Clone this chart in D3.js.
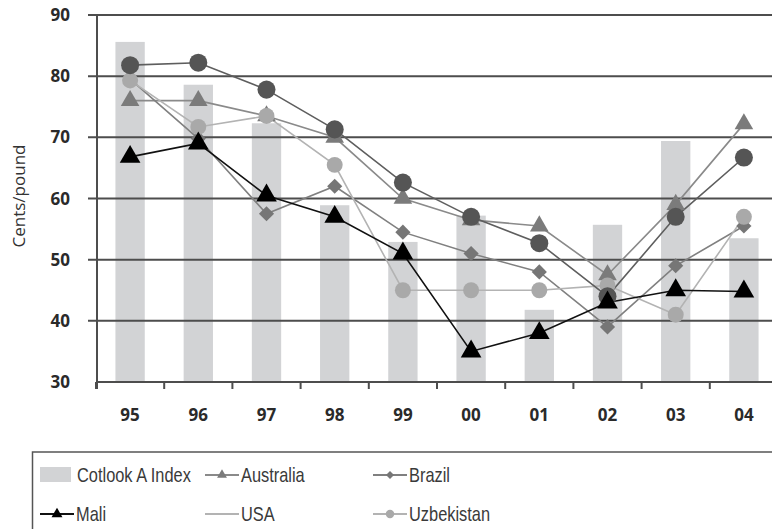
<!DOCTYPE html>
<html><head><meta charset="utf-8">
<script src="https://cdn.jsdelivr.net/npm/d3@7/dist/d3.min.js"></script>
<style>
html,body{margin:0;padding:0;background:#fff;}
svg{display:block;}
.leg{font-family:'Liberation Sans',Arial,sans-serif;font-size:20px;fill:#3a3a3a;}
.ax{font-family:'Open Sans','DejaVu Sans',sans-serif;font-weight:bold;font-size:17px;fill:#2a2a2a;}
</style></head>
<body>
<svg id="c" width="772" height="529"></svg>
<script>
const years = ["95","96","97","98","99","00","01","02","03","04"];
const yTicks = [30,40,50,60,70,80,90];
const cotlook    = [85.6,78.6,72.3,58.9,52.9,57.2,41.8,55.7,69.4,53.5];
const australia  = [76,76,73.5,70,60,56.5,55.5,47.5,59,72.2];
const brazil     = [79.5,69.8,57.5,62,54.5,51,48,39,49,55.5];
const mali       = [66.8,69,60.5,57,51,35,38,43,45,44.8];
const usa        = [81.8,82.2,77.8,71.3,62.6,57,52.7,44,57,66.7];
const uzbekistan = [79.3,71.7,73.5,65.5,45,45,45,45.8,41,57];

const svg = d3.select("#c");
const x = d3.scaleBand().domain(years).range([96,778]).paddingInner(0.57).paddingOuter(0.285);
const y = d3.scaleLinear().domain([30,90]).range([382,15]);
const cx = d => x(d) + x.bandwidth()/2;

// bars
svg.append("g").selectAll("rect").data(years).join("rect")
  .attr("x", d => x(d)).attr("width", x.bandwidth())
  .attr("y", (d,i) => y(cotlook[i])).attr("height", (d,i) => y(30) - y(cotlook[i]))
  .attr("fill", "#d2d3d5");

// gridlines
svg.append("g").selectAll("line").data(yTicks.filter(v => v > 30)).join("line")
  .attr("x1", 88).attr("x2", 772).attr("y1", d => y(d)).attr("y2", d => y(d))
  .attr("stroke", "#4d4d4d").attr("stroke-width", 2);
// baseline
svg.append("line").attr("x1", 97).attr("x2", 772).attr("y1", y(30)).attr("y2", y(30))
  .attr("stroke", "#4d4d4d").attr("stroke-width", 2);
// y axis line
svg.append("line").attr("x1", 97).attr("x2", 97).attr("y1", y(90)).attr("y2", y(30) + 7)
  .attr("stroke", "#4d4d4d").attr("stroke-width", 2);
// x ticks at band boundaries
svg.append("g").selectAll("line").data(years).join("line")
  .attr("x1", d => cx(d) - x.step()/2).attr("x2", d => cx(d) - x.step()/2)
  .attr("y1", y(30)).attr("y2", y(30) + 7)
  .attr("stroke", "#4d4d4d").attr("stroke-width", 2);

// y labels
svg.append("g").selectAll("text").data(yTicks).join("text")
  .attr("class", "ax").attr("x", 70).attr("y", d => y(d) + 6).attr("text-anchor", "end")
  .text(d => d);
// x labels
svg.append("g").selectAll("text").data(years).join("text")
  .attr("class", "ax").attr("x", d => cx(d)).attr("y", 421).attr("text-anchor", "middle")
  .text(d => d);
// y title
svg.append("text").attr("transform", "translate(25,196) rotate(-90)")
  .attr("text-anchor", "middle")
  .style("font-family", "'Open Sans','DejaVu Sans',sans-serif").style("font-size", "17px").style("fill", "#333")
  .text("Cents/pound");

const line = d3.line().x((d,i) => cx(years[i])).y(d => y(d));
const series = [
  {name:"Australia", vals:australia, line:"#8a8a8a", fill:"#7b7b7b", sym:d3.symbolTriangle, size:150, rot:0},
  {name:"Brazil", vals:brazil, line:"#808080", fill:"#767676", sym:d3.symbolSquare, size:115, rot:45},
  {name:"Uzbekistan", vals:uzbekistan, line:"#b3b3b3", fill:"#a9a9a9", sym:d3.symbolCircle, size:200, rot:0},
  {name:"USA", vals:usa, line:"#5e5e5e", fill:"#555555", sym:d3.symbolCircle, size:255, rot:0},
  {name:"Mali", vals:mali, line:"#111", fill:"#000", sym:d3.symbolTriangle, size:185, rot:0}
];
series.forEach(s => {
  svg.append("path").attr("d", line(s.vals)).attr("fill", "none")
    .attr("stroke", s.line).attr("stroke-width", 1.6);
});
series.forEach(s => {
  svg.append("g").selectAll("path").data(s.vals).join("path")
    .attr("d", d3.symbol().type(s.sym).size(s.size))
    .attr("transform", (d,i) => `translate(${cx(years[i])},${y(d)}) rotate(${s.rot})`)
    .attr("fill", s.fill);
});

// legend
const byName = n => series.find(s => s.name === n);
const lg = svg.append("g");
lg.append("rect").attr("x", 32.5).attr("y", 452).attr("width", 760).attr("height", 100)
  .attr("fill", "none").attr("stroke", "#555").attr("stroke-width", 1.5);
const legendItems = [
  {label:"Cotlook A Index", x:40, row:0, kind:"bar"},
  {label:"Australia", x:205, row:0, kind:"line", s:byName("Australia")},
  {label:"Brazil", x:373, row:0, kind:"line", s:byName("Brazil")},
  {label:"Mali", x:40, row:1, kind:"line", s:byName("Mali")},
  {label:"USA", x:205, row:1, kind:"plain", s:{line:"#b3b3b3"}},
  {label:"Uzbekistan", x:373, row:1, kind:"line", s:byName("Uzbekistan")}
];
const rowY = [475, 514];
const legText = (tx, ty, label) => lg.append("text").attr("class", "leg")
  .attr("transform", `translate(${tx},${ty}) scale(0.82,1)`).text(label);
legendItems.forEach(it => {
  const yy = rowY[it.row];
  if (it.kind === "bar") {
    lg.append("rect").attr("x", it.x).attr("y", yy - 8).attr("width", 31).attr("height", 15).attr("fill", "#d2d3d5");
    legText(it.x + 37, yy + 7, it.label);
  } else {
    lg.append("line").attr("x1", it.x).attr("x2", it.x + 34).attr("y1", yy).attr("y2", yy)
      .attr("stroke", it.s.line).attr("stroke-width", it.label === "Mali" ? 2.2 : 2);
    if (it.kind === "line") {
      lg.append("path").attr("d", d3.symbol().type(it.s.sym).size(it.s.size * 0.28))
        .attr("transform", `translate(${it.x + 17},${yy}) rotate(${it.s.rot})`).attr("fill", it.s.fill);
    }
    legText(it.x + 36, yy + 7, it.label);
  }
});
</script>
</body></html>
